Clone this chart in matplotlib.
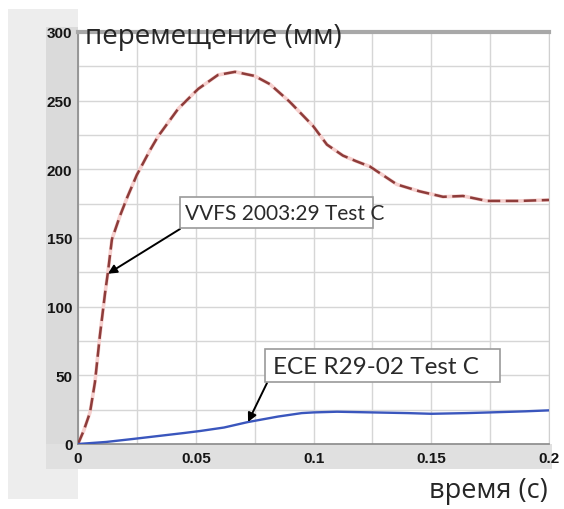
import matplotlib.pyplot as plt
from matplotlib.patches import Rectangle
import numpy as np

# время (с) / перемещение (мм)
t_vvfs = [0, 0.0025, 0.0051, 0.0072, 0.0093, 0.0115, 0.0127, 0.0144, 0.0178, 0.021,
          0.025, 0.0306, 0.034, 0.0425, 0.051, 0.0594, 0.0667, 0.075, 0.0815, 0.090,
          0.0998, 0.1057, 0.1125, 0.118, 0.124, 0.1354, 0.145, 0.155, 0.1635,
          0.1736, 0.1877, 0.2]
y_vvfs = [0, 10, 23, 45, 79, 110, 125, 149, 166, 180, 196, 214, 224, 244, 258.5,
          268.7, 271, 268, 262, 249, 231.6, 218, 210, 206, 202, 189, 184, 180, 180.6,
          177, 177, 177.7]

t_ece = [0, 0.012, 0.023, 0.035, 0.045, 0.052, 0.062, 0.0722, 0.085, 0.095, 0.1, 0.11,
         0.125, 0.14, 0.15, 0.165, 0.175, 0.19, 0.2]
y_ece = [0, 1.5, 3.6, 6, 8, 9.5, 12, 16, 20, 22.5, 23, 23.5, 23, 22.5, 22, 22.5, 23,
         23.8, 24.5]

xticks = [0, 0.05, 0.1, 0.15, 0.2]
xtick_labels = ["0", "0.05", "0.1", "0.15", "0.2"]
yticks = [0, 50, 100, 150, 200, 250, 300]

W, H = 564, 510
fig = plt.figure(figsize=(W / 100, H / 100), dpi=100)
fig.patch.set_facecolor("white")


def px(x0, y0, x1, y1):
    # pixel box -> figure fraction (left, bottom, width, height)
    return x0 / W, 1 - y1 / H, (x1 - x0) / W, (y1 - y0) / H


# grey panels behind the chart (screenshot look)
for (x0, y0, x1, y1, c) in [(8, 10, 78, 500, "#ededed"),
                            (46, 28, 78, 470, "#dadada"),
                            (46, 445, 552, 470, "#e0e0e0")]:
    l, b, w, h = px(x0, y0, x1, y1)
    fig.patches.append(Rectangle((l, b), w, h, transform=fig.transFigure,
                                 facecolor=c, edgecolor="none", zorder=-5))

l, b, w, h = px(78, 33, 549, 445)
ax = fig.add_axes([l, b, w, h])
ax.set_facecolor("white")

ax.plot(t_vvfs, y_vvfs, color="#f6d0ce", lw=2.6, zorder=2, solid_capstyle="round")
ax.plot(t_vvfs, y_vvfs, color="#8e3c3a", lw=1.8, dashes=(5, 2.2), zorder=3)
ax.plot(t_ece, y_ece, color="#3a56bd", lw=1.7, zorder=3)

ax.set_xlim(0, 0.2)
ax.set_ylim(0, 300)
ax.set_xticks(xticks)
ax.set_xticklabels(xtick_labels)
ax.set_yticks(yticks)
ax.set_xticks(np.arange(0, 0.2001, 0.025), minor=True)
ax.set_yticks(np.arange(0, 301, 25), minor=True)
ax.grid(True, which="both", color="#d6d6d6", lw=1.0)
ax.set_axisbelow(True)
ax.tick_params(which="both", length=0)
ax.tick_params(axis="y", pad=4)
ax.tick_params(axis="x", pad=5)
for lab in ax.get_xticklabels() + ax.get_yticklabels():
    lab.set_fontfamily("Liberation Sans")
    lab.set_fontweight("bold")
    lab.set_fontsize(11)
    lab.set_color("#151515")

for s in ["left", "bottom"]:
    ax.spines[s].set_color("#8a8a8a")
    ax.spines[s].set_linewidth(1.2)
ax.spines["top"].set_color("#a8a8a8")
ax.spines["top"].set_linewidth(3)
ax.spines["right"].set_color("#d0d0d0")

fig.text(85 / W, 1 - 44 / H, "перемещение (мм)", fontsize=20, color="#262626",
         va="baseline", ha="left", family="Open Sans", zorder=5)
fig.text(548 / W, 1 - 498 / H, "время (с)", fontsize=19.5, color="#262626",
         va="baseline", ha="right", family="Open Sans")

# label boxes (pixel coordinates from the picture)
boxes = [(180, 198, 373, 229), (265, 350, 500, 383)]
for (x0, y0, x1, y1) in boxes:
    l, b, w, h = px(x0, y0, x1, y1)
    fig.patches.append(Rectangle((l, b), w, h, transform=fig.transFigure,
                                 facecolor="white", edgecolor="#9a9a9a", lw=1.2,
                                 zorder=4))

fig.text(185 / W, 1 - 214 / H, "VVFS 2003:29 Test C", fontsize=15, color="#2a2a2a",
         va="center", ha="left", family="Lato", zorder=6)
fig.text(273 / W, 1 - 367 / H, "ECE R29-02 Test C", fontsize=17.5, color="#2a2a2a",
         va="center", ha="left", family="Lato", zorder=6)

arrow = dict(arrowstyle="-|>", color="black", lw=1.4, mutation_scale=13,
             shrinkA=0, shrinkB=0)
ax.annotate("", xy=(0.0127, 124), xytext=(180, H - 230),
            textcoords="figure pixels", arrowprops=arrow, zorder=6)
ax.annotate("", xy=(0.0722, 16), xytext=(267, H - 384),
            textcoords="figure pixels", arrowprops=arrow, zorder=6)

fig.savefig("out.png", dpi=100, facecolor=fig.get_facecolor())
